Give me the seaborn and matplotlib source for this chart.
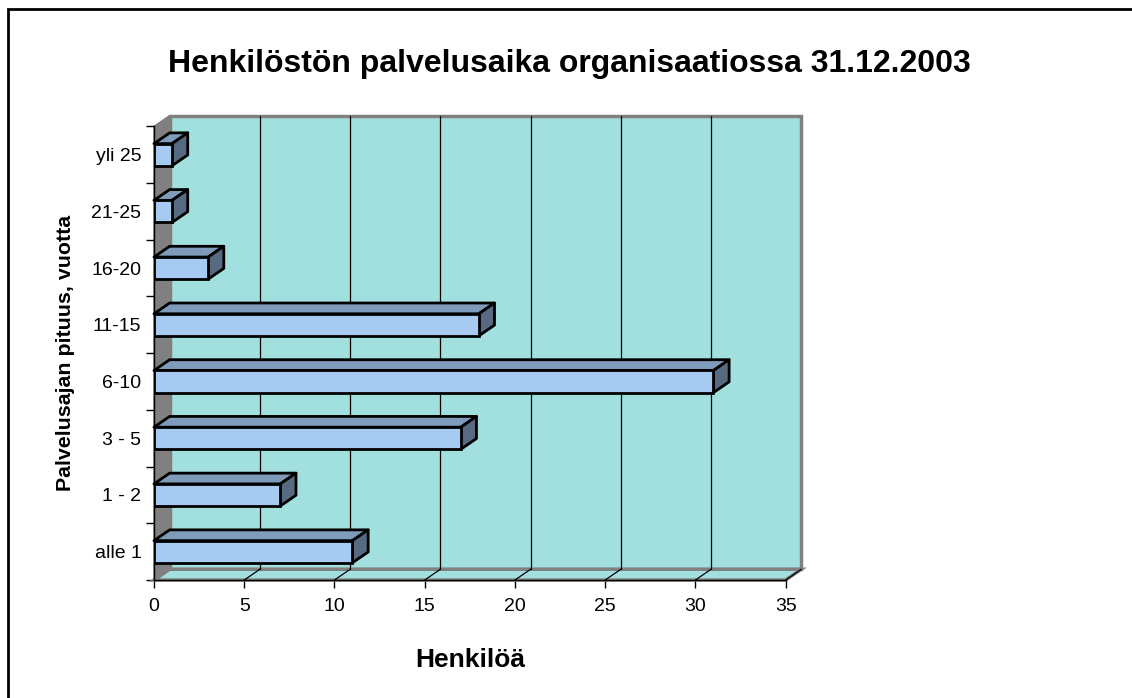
import matplotlib
matplotlib.use("Agg")
import matplotlib.pyplot as plt
from matplotlib.patches import Polygon, Rectangle
from matplotlib.lines import Line2D
import seaborn as sns
import pandas as pd

# chart data (bottom to top as in the picture)
categories = ["alle 1", "1 - 2", "3 - 5", "6-10", "11-15", "16-20", "21-25", "yli 25"]
persons = [11, 7, 17, 31, 18, 3, 1, 1]
x_ticks = [0, 5, 10, 15, 20, 25, 30, 35]

title = "Henkilöstön palvelusaika organisaatiossa 31.12.2003"
x_label = "Henkilöä"
y_label = "Palvelusajan pituus, vuotta"

df = pd.DataFrame({"cat": categories, "n": persons})
order = categories[::-1]  # first in order is drawn at the top

sns.set_theme(style="white")
plt.rcParams["font.family"] = ["Liberation Sans", "DejaVu Sans"]
plt.rcParams["text.color"] = "black"
plt.rcParams["axes.labelcolor"] = "black"
plt.rcParams["xtick.color"] = "black"
plt.rcParams["ytick.color"] = "black"

fig = plt.figure(figsize=(11.32, 6.98), dpi=100)
ax = fig.add_axes([0.136, 0.169, 0.558, 0.650])

front = "#A6CAF0"
top_c = "#7E9BBA"
side_c = "#566B82"
wall = "#A2E0E0"
grey = "#808080"

dx = 0.87   # depth offset, x data units
dy = 0.19   # depth offset, category units (screen up = smaller y)
h = 0.39    # bar thickness
n = len(categories)
y_lo, y_hi = n - 0.5, -0.5

# back wall, side wall, floor
ax.add_patch(Polygon([(dx, y_lo - dy), (35 + dx, y_lo - dy), (35 + dx, y_hi - dy), (dx, y_hi - dy)],
                     closed=True, facecolor=wall, edgecolor=grey, lw=2.5, zorder=0, clip_on=False))
ax.add_patch(Polygon([(0, y_lo), (dx, y_lo - dy), (dx, y_hi - dy), (0, y_hi)],
                     closed=True, facecolor=grey, edgecolor=grey, lw=1, zorder=0.5, clip_on=False))
ax.add_patch(Polygon([(0, y_lo), (35, y_lo), (35 + dx, y_lo - dy), (dx, y_lo - dy)],
                     closed=True, facecolor=wall, edgecolor=grey, lw=2.5, zorder=0.6, clip_on=False))

# gridlines on back wall and floor
for t in x_ticks[1:-1]:
    ax.add_line(Line2D([t + dx, t + dx], [y_lo - dy, y_hi - dy], color="black", lw=0.9, zorder=0.7, clip_on=False))
for t in x_ticks[1:]:
    ax.add_line(Line2D([t, t + dx], [y_lo, y_lo - dy], color="black", lw=0.9, zorder=0.7, clip_on=False))

sns.barplot(data=df, x="n", y="cat", order=order, orient="h", width=h,
            color=front, saturation=1, edgecolor="black", linewidth=2, ax=ax, zorder=3)

# 3D faces of the bars
for p in ax.patches:
    if not isinstance(p, Rectangle):
        continue
    v = p.get_width()
    yt = p.get_y()
    yb = yt + p.get_height()
    ax.add_patch(Polygon([(0, yt), (v, yt), (v + dx, yt - dy), (dx, yt - dy)], closed=True,
                         facecolor=top_c, edgecolor="black", lw=2, zorder=2.9, clip_on=False, joinstyle="round"))
    ax.add_patch(Polygon([(v, yt), (v, yb), (v + dx, yb - dy), (v + dx, yt - dy)], closed=True,
                         facecolor=side_c, edgecolor="black", lw=2, zorder=2.9, clip_on=False, joinstyle="round"))

ax.set_xlim(0, 35)
ax.set_ylim(y_lo, y_hi)
ax.set_facecolor("none")
ax.patch.set_alpha(0)
for s in ["top", "right"]:
    ax.spines[s].set_visible(False)
ax.spines["left"].set_color("black")
ax.spines["bottom"].set_color("black")
ax.spines["left"].set_linewidth(1)
ax.spines["bottom"].set_linewidth(1)
ax.spines["left"].set_zorder(5)

ax.set_xticks(x_ticks)
ax.set_xticklabels([str(t) for t in x_ticks], fontsize=14)
ax.set_yticks(range(n))
ax.set_yticklabels(order, fontsize=14)
ax.set_yticks([i - 0.5 for i in range(n + 1)], minor=True)
ax.tick_params(axis="y", which="major", length=0, pad=9)
ax.tick_params(axis="y", which="minor", length=6, width=1, color="black", left=True, direction="out")
ax.tick_params(axis="x", which="major", length=6, width=1, color="black", bottom=True, direction="out", pad=7)

ax.set_xlabel(x_label, fontsize=19, fontweight="bold", labelpad=24)
ax.set_ylabel(y_label, fontsize=15.4, fontweight="bold", labelpad=12)
fig.text(0.503, 0.909, title, fontsize=23, fontweight="bold", ha="center", va="center")

# outer chart border
fig.add_artist(Rectangle((7.5 / 1132, -0.05), 1.2, 1.05 - 8.5 / 698, transform=fig.transFigure,
                         fill=False, edgecolor="black", lw=2))

fig.savefig("out.png", dpi=100)
